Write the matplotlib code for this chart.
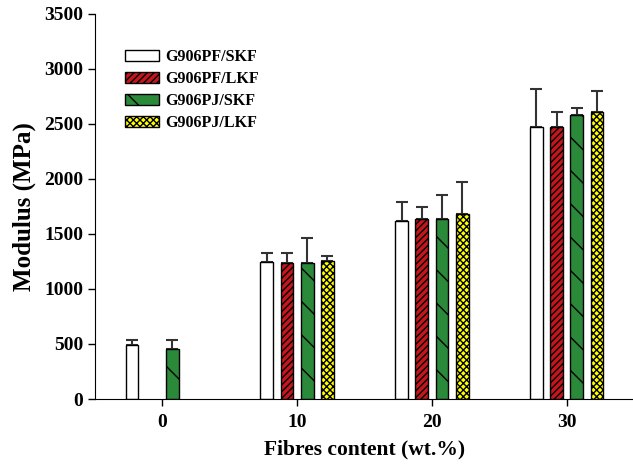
import numpy as np
import matplotlib.pyplot as plt

# fibre content groups
content = [0, 10, 20, 30]
labels = ['G906PF/SKF', 'G906PF/LKF', 'G906PJ/SKF', 'G906PJ/LKF']

# modulus (MPa) and upper error
pf_skf = [490, 1241, 1617, 2471]
pf_skf_err = [50, 85, 172, 342]
pf_lkf = [np.nan, 1235, 1632, 2468]
pf_lkf_err = [0, 88, 115, 136]
pj_skf = [457, 1235, 1632, 2577]
pj_skf_err = [82, 230, 218, 69]
pj_lkf = [np.nan, 1256, 1677, 2604]
pj_lkf_err = [0, 46, 294, 191]

series = [pf_skf, pf_lkf, pj_skf, pj_lkf]
errors = [pf_skf_err, pf_lkf_err, pj_skf_err, pj_lkf_err]
colors = ['white', '#C4161C', '#2B8A3A', '#FFFF00']
hatches = ['', '/////', '\\', 'xxxxx']
offsets = [-2.25, -0.75, 0.75, 2.25]

plt.rcParams['font.family'] = 'Liberation Serif'
plt.rcParams['font.weight'] = 'bold'
plt.rcParams['hatch.linewidth'] = 1.0

fig = plt.figure(figsize=(6.33, 4.66), dpi=100)
ax = fig.add_axes([95/633, 67/466, 539/633, 385.3/466])

x = np.array(content, dtype=float)
for vals, err, c, h, off, lab in zip(series, errors, colors, hatches, offsets, labels):
    v = np.array(vals, dtype=float)
    ax.bar(x + off, v, width=0.95, color=c, edgecolor='black', linewidth=1.0,
           hatch=h, label=lab, zorder=2)
    e = np.array(err, dtype=float)
    ax.errorbar(x + off, v, yerr=[np.zeros_like(e), e], fmt='none',
                ecolor='#333333', elinewidth=1.5, capsize=4, capthick=1.5, zorder=1)

ax.set_xlim(-5, 35)
ax.set_ylim(0, 3500)
ax.set_xticks(content)
ax.set_yticks(range(0, 3501, 500))
ax.spines['top'].set_visible(False)
ax.spines['right'].set_visible(False)
ax.tick_params(axis='both', direction='out', length=5, width=1, labelsize=14)
ax.tick_params(axis='x', pad=6)
ax.set_xlabel('Fibres content (wt.%)', fontsize=15.5, fontweight='bold', labelpad=6)
ax.set_ylabel('Modulus (MPa)', fontsize=18, fontweight='bold', labelpad=6)

ax.legend(loc='upper left', bbox_to_anchor=(125/633, 1 - 49/466), bbox_transform=fig.transFigure,
          frameon=False, fontsize=11.5, handlelength=2.1, handleheight=0.7,
          labelspacing=0.38, borderpad=0, borderaxespad=0, handletextpad=0.45)

fig.savefig('out.png', dpi=100)
